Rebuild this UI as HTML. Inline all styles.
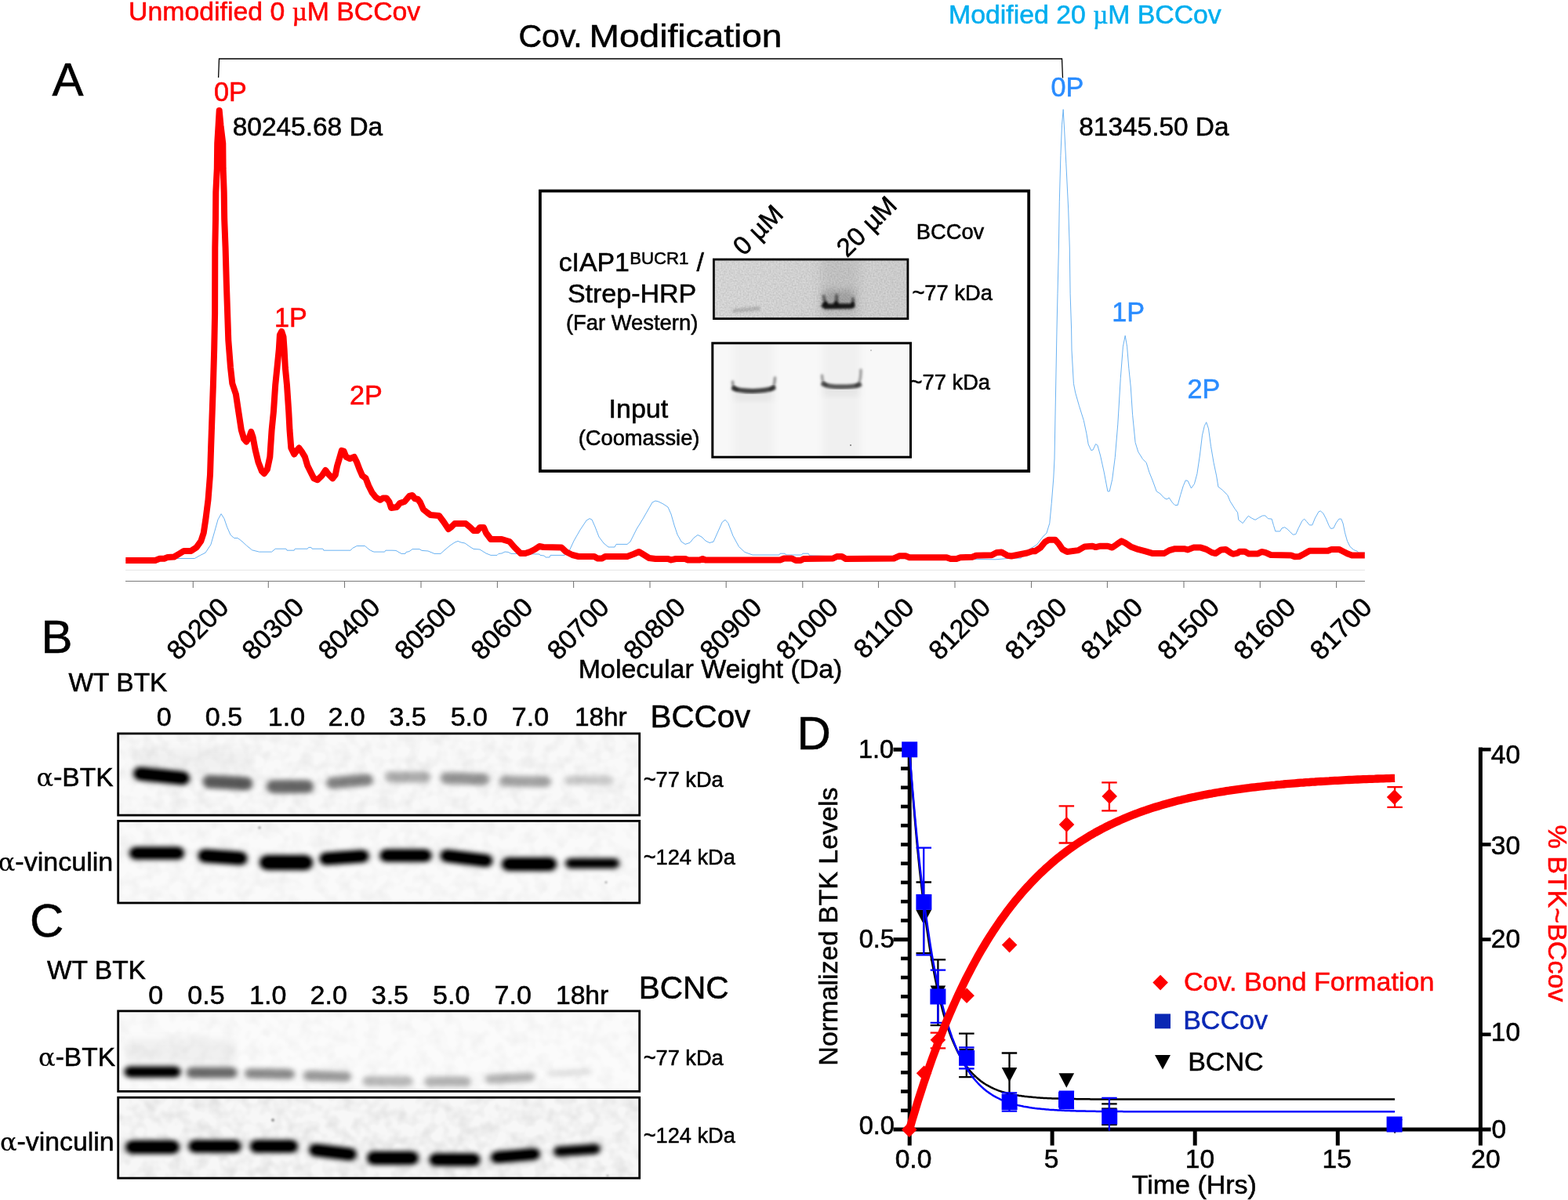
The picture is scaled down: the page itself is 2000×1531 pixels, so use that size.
<!DOCTYPE html>
<html lang="en"><head><meta charset="utf-8"><title>Figure</title>
<style>html,body{margin:0;padding:0;background:#fff;overflow:hidden}svg{display:block}text{font-family:'Liberation Sans', sans-serif;fill:currentColor;stroke:currentColor;stroke-width:0.55px}</style>
</head><body>
<svg width="2000" height="1531" viewBox="0 0 2000 1531" color="#000">
<defs>
<filter id="bl" x="-30%" y="-120%" width="160%" height="340%"><feGaussianBlur stdDeviation="3.8 3.3"/><feComponentTransfer><feFuncA type="linear" slope="1.08" intercept="0"/></feComponentTransfer></filter>
<filter id="bl2" x="-30%" y="-100%" width="160%" height="300%"><feGaussianBlur stdDeviation="1.6"/></filter>
<linearGradient id="gU" x1="0" y1="0" x2="1" y2="0"><stop offset="0" stop-color="#dcdcdc"/><stop offset="0.5" stop-color="#d8d8d8"/><stop offset="1" stop-color="#d3d3d3"/></linearGradient>
<filter id="bl4" x="-50%" y="-50%" width="200%" height="200%"><feGaussianBlur stdDeviation="5"/></filter>
<filter id="bl5" x="-30%" y="-100%" width="160%" height="300%"><feGaussianBlur stdDeviation="1.7"/></filter>
<filter id="grain" x="0" y="0" width="100%" height="100%"><feTurbulence type="fractalNoise" baseFrequency="0.5" numOctaves="2" seed="3"/><feColorMatrix type="matrix" values="0 0 0 0 0  0 0 0 0 0  0 0 0 0 0  2 0 0 0 -0.6"/></filter>
<filter id="bl6" x="-100%" y="-100%" width="300%" height="300%"><feGaussianBlur stdDeviation="0.9"/></filter>
<filter id="bl3" x="-30%" y="-30%" width="160%" height="160%"><feGaussianBlur stdDeviation="7"/></filter>
<filter id="noise" x="0" y="0" width="100%" height="100%"><feTurbulence type="fractalNoise" baseFrequency="0.06" numOctaves="2" seed="7"/><feColorMatrix type="matrix" values="0 0 0 0 0  0 0 0 0 0  0 0 0 0 0  1.2 0 0 0 -0.45"/></filter>
</defs>
<rect width="2000" height="1531" fill="#fff"/>
<g id="spectrum">
<line x1="160" y1="727.3" x2="1741" y2="727.3" stroke="#e4e4e4" stroke-width="1"/>
<line x1="160" y1="741.5" x2="1741" y2="741.5" stroke="#7a7a7a" stroke-width="1.1"/>
<line x1="246.3" y1="741.5" x2="246.3" y2="750" stroke="#7a7a7a" stroke-width="1.1"/>
<text transform="translate(293.6,777) rotate(-45)" font-size="34" text-anchor="end">80200</text>
<line x1="342.3" y1="741.5" x2="342.3" y2="750" stroke="#7a7a7a" stroke-width="1.1"/>
<text transform="translate(389.6,777) rotate(-45)" font-size="34" text-anchor="end">80300</text>
<line x1="439.5" y1="741.5" x2="439.5" y2="750" stroke="#7a7a7a" stroke-width="1.1"/>
<text transform="translate(486.8,777) rotate(-45)" font-size="34" text-anchor="end">80400</text>
<line x1="537.0" y1="741.5" x2="537.0" y2="750" stroke="#7a7a7a" stroke-width="1.1"/>
<text transform="translate(584.3,777) rotate(-45)" font-size="34" text-anchor="end">80500</text>
<line x1="634.4" y1="741.5" x2="634.4" y2="750" stroke="#7a7a7a" stroke-width="1.1"/>
<text transform="translate(681.7,777) rotate(-45)" font-size="34" text-anchor="end">80600</text>
<line x1="731.6" y1="741.5" x2="731.6" y2="750" stroke="#7a7a7a" stroke-width="1.1"/>
<text transform="translate(778.9,777) rotate(-45)" font-size="34" text-anchor="end">80700</text>
<line x1="829.0" y1="741.5" x2="829.0" y2="750" stroke="#7a7a7a" stroke-width="1.1"/>
<text transform="translate(876.3,777) rotate(-45)" font-size="34" text-anchor="end">80800</text>
<line x1="926.2" y1="741.5" x2="926.2" y2="750" stroke="#7a7a7a" stroke-width="1.1"/>
<text transform="translate(973.5,777) rotate(-45)" font-size="34" text-anchor="end">80900</text>
<line x1="1023.8" y1="741.5" x2="1023.8" y2="750" stroke="#7a7a7a" stroke-width="1.1"/>
<text transform="translate(1071.0,777) rotate(-45)" font-size="34" text-anchor="end">81000</text>
<line x1="1120.5" y1="741.5" x2="1120.5" y2="750" stroke="#7a7a7a" stroke-width="1.1"/>
<text transform="translate(1167.8,777) rotate(-45)" font-size="34" text-anchor="end">81100</text>
<line x1="1218.0" y1="741.5" x2="1218.0" y2="750" stroke="#7a7a7a" stroke-width="1.1"/>
<text transform="translate(1265.3,777) rotate(-45)" font-size="34" text-anchor="end">81200</text>
<line x1="1315.5" y1="741.5" x2="1315.5" y2="750" stroke="#7a7a7a" stroke-width="1.1"/>
<text transform="translate(1362.8,777) rotate(-45)" font-size="34" text-anchor="end">81300</text>
<line x1="1412.4" y1="741.5" x2="1412.4" y2="750" stroke="#7a7a7a" stroke-width="1.1"/>
<text transform="translate(1459.7,777) rotate(-45)" font-size="34" text-anchor="end">81400</text>
<line x1="1510.0" y1="741.5" x2="1510.0" y2="750" stroke="#7a7a7a" stroke-width="1.1"/>
<text transform="translate(1557.3,777) rotate(-45)" font-size="34" text-anchor="end">81500</text>
<line x1="1607.3" y1="741.5" x2="1607.3" y2="750" stroke="#7a7a7a" stroke-width="1.1"/>
<text transform="translate(1654.6,777) rotate(-45)" font-size="34" text-anchor="end">81600</text>
<line x1="1704.6" y1="741.5" x2="1704.6" y2="750" stroke="#7a7a7a" stroke-width="1.1"/>
<text transform="translate(1751.9,777) rotate(-45)" font-size="34" text-anchor="end">81700</text>
<path d="M160.0,714.5 L225.4,712.5 L248.3,712.5 L255.2,708.6 L262.0,705.2 L268.9,694.9 L273.5,678.9 L278.0,662.9 L282.1,655.6 L286.0,661.8 L289.5,672.1 L294.0,682.4 L298.6,686.5 L303.2,686.5 L307.8,689.9 L314.6,696.1 L321.5,701.8 L330.6,704.1 L346.6,704.1 L351.2,700.2 L364.9,700.2 L366.0,702.2 L375.2,702.2 L376.3,700.2 L392.3,700.2 L393.5,698.4 L396.9,698.4 L398.1,700.2 L411.8,700.2 L412.9,702.2 L447.2,702.2 L449.5,699.5 L455.2,696.5 L465.5,696.5 L468.9,699.5 L472.4,702.2 L476.9,704.1 L490.6,704.1 L491.8,702.2 L500.0,702.2 L505.0,702.4 L512.0,706.4 L517.0,706.4 L518.0,704.4 L522.0,703.6 L526.0,700.6 L535.0,700.6 L538.0,702.4 L546.0,703.0 L554.0,706.4 L562.0,706.4 L568.0,701.0 L574.0,696.0 L580.0,692.0 L584.0,690.4 L588.0,692.0 L593.0,693.0 L600.0,698.0 L604.0,700.4 L612.0,701.0 L620.0,706.0 L626.0,708.4 L634.0,708.4 L636.0,706.4 L640.0,706.0 L644.0,704.0 L648.0,704.4 L652.0,706.4 L660.0,706.4 L688.0,707.0 L689.0,708.4 L694.0,709.0 L696.0,711.0 L701.0,711.0 L702.0,708.4 L720.0,708.4 L726.0,703.0 L732.0,690.0 L740.0,676.0 L748.0,664.0 L752.0,661.6 L755.0,663.0 L759.0,672.0 L764.0,685.0 L770.0,693.0 L776.0,698.0 L784.0,698.0 L786.0,694.4 L800.0,694.4 L804.0,691.0 L812.0,675.0 L820.0,662.0 L828.0,648.0 L832.0,641.0 L836.0,639.0 L840.0,640.0 L846.0,643.0 L852.0,647.0 L856.0,656.0 L860.0,670.0 L864.0,682.0 L869.0,691.0 L874.0,694.4 L880.0,692.4 L885.0,686.2 L890.0,682.5 L895.0,685.0 L900.0,690.0 L905.0,692.5 L910.0,691.2 L915.0,680.0 L921.2,666.2 L925.0,663.2 L928.8,667.5 L935.0,683.8 L942.5,697.5 L950.0,704.5 L960.0,708.0 L993.8,708.0 L995.0,706.2 L1001.2,706.2 L1002.5,708.0 L1022.5,708.0 L1023.8,706.2 L1031.2,706.2 L1032.5,708.8 L1140.0,712.5 L1270.0,713.8 L1285.0,712.5 L1302.5,712.0 L1305.0,705.0 L1310.0,702.5 L1322.5,695.0 L1330.0,685.0 L1335.0,680.0 L1338.8,667.5 L1341.2,642.5 L1343.8,610.0 L1345.0,585.0 L1348.0,420.0 L1349.0,374.8 L1350.4,316.0 L1351.3,257.2 L1352.9,198.4 L1354.5,159.2 L1356.2,139.6 L1357.8,169.0 L1359.8,208.2 L1362.7,267.0 L1364.3,316.0 L1365.1,374.8 L1366.6,420.0 L1367.0,447.0 L1369.4,489.3 L1371.7,501.1 L1376.4,517.6 L1382.3,536.4 L1385.8,552.8 L1388.2,566.9 L1391.7,574.5 L1394.1,574.0 L1397.6,566.5 L1399.9,568.1 L1403.5,581.0 L1408.2,602.2 L1412.9,626.9 L1415.2,626.9 L1418.7,611.6 L1422.3,583.4 L1425.8,541.1 L1429.3,482.3 L1432.4,442.3 L1435.2,428.2 L1437.6,442.3 L1439.9,470.5 L1442.3,494.0 L1444.6,529.3 L1448.1,564.6 L1451.7,576.3 L1457.5,585.7 L1462.2,590.4 L1465.8,602.2 L1470.5,614.0 L1475.2,626.9 L1479.9,629.9 L1484.6,635.1 L1488.1,637.0 L1491.2,635.1 L1495.2,641.0 L1498.7,644.5 L1502.2,644.5 L1505.7,631.6 L1509.3,619.8 L1512.3,612.8 L1515.1,613.5 L1519.4,622.9 L1523.4,617.5 L1526.9,604.5 L1530.4,581.0 L1533.5,555.2 L1536.3,543.4 L1538.7,538.7 L1541.5,546.9 L1544.5,569.3 L1548.1,590.4 L1551.6,606.9 L1553.9,621.0 L1559.8,625.7 L1565.7,631.6 L1569.2,639.8 L1575.1,649.2 L1578.6,653.9 L1579.8,663.3 L1585.2,667.6 L1589.2,662.1 L1592.3,658.2 L1596.3,661.0 L1601.0,663.3 L1605.7,660.5 L1610.4,657.9 L1613.9,657.9 L1617.4,661.7 L1622.1,662.1 L1624.5,670.4 L1626.8,677.9 L1632.7,677.9 L1635.0,673.9 L1638.6,672.7 L1642.1,675.1 L1645.6,678.6 L1649.2,682.1 L1652.7,681.7 L1656.2,673.9 L1660.9,664.5 L1663.7,662.1 L1666.8,665.7 L1670.3,669.9 L1673.8,669.9 L1677.4,661.0 L1682.1,652.7 L1684.4,652.0 L1687.9,655.1 L1691.5,662.1 L1695.0,670.4 L1697.4,674.4 L1700.9,673.9 L1704.4,666.9 L1707.9,662.1 L1710.8,662.1 L1713.1,668.0 L1715.5,679.8 L1718.5,690.4 L1722.0,697.4 L1726.7,701.6 L1731.4,703.3 L1732.6,705.2 L1740.8,705.2" fill="none" stroke="#6ab2f2" stroke-width="1" stroke-linejoin="round"/>
<path d="M160.3,715.0 L198.0,715.0 L203.7,712.8 L209.4,712.8 L214.0,710.9 L222.0,710.5 L228.9,706.4 L234.6,702.9 L243.7,702.9 L250.6,698.4 L256.3,690.4 L259.7,680.1 L262.3,662.9 L265.5,637.8 L268.0,605.8 L269.1,571.5 L270.3,537.2 L271.9,491.4 L273.2,445.7 L274.1,400.0 L274.3,316.0 L275.0,280.0 L275.3,245.0 L276.8,215.0 L277.2,183.0 L278.6,160.0 L279.7,141.0 L281.5,160.0 L284.3,183.0 L284.6,215.0 L285.7,245.0 L286.2,280.0 L287.6,316.0 L288.8,360.0 L291.3,434.3 L294.0,468.6 L296.3,489.2 L300.9,502.9 L304.3,525.7 L307.8,548.6 L311.2,560.0 L314.2,563.5 L318.0,557.8 L320.3,550.9 L322.6,557.8 L325.6,573.8 L329.5,589.8 L334.0,601.2 L337.0,604.2 L340.9,598.9 L344.3,582.9 L346.6,548.6 L348.9,525.7 L351.2,491.4 L353.5,468.6 L355.8,445.7 L356.9,427.4 L359.2,422.9 L361.5,429.7 L362.6,445.7 L363.8,468.6 L366.0,491.4 L368.3,525.7 L369.5,548.6 L371.3,571.5 L375.2,579.5 L378.6,574.9 L381.4,571.5 L385.5,577.2 L388.9,582.9 L392.3,594.3 L396.9,603.5 L400.3,610.3 L404.9,612.2 L410.6,606.9 L415.2,600.0 L418.6,604.6 L424.3,610.3 L427.8,605.8 L430.1,594.3 L433.5,582.9 L435.8,574.9 L438.5,575.6 L441.5,582.9 L446.1,585.2 L451.8,582.9 L455.2,589.8 L458.6,598.9 L462.1,606.9 L466.6,610.3 L470.1,619.5 L474.6,628.6 L479.2,634.3 L484.9,637.8 L488.4,635.5 L492.9,635.5 L496.4,640.1 L499.0,648.0 L506.0,647.0 L510.0,642.0 L516.0,640.0 L522.0,633.0 L526.0,632.0 L529.0,636.0 L533.0,637.0 L536.0,641.0 L540.0,650.0 L545.0,654.0 L549.0,657.0 L560.0,658.0 L566.0,666.0 L572.0,675.0 L576.0,672.0 L580.0,668.0 L594.0,668.0 L600.0,673.0 L604.0,677.0 L609.0,677.0 L612.0,673.0 L617.0,673.0 L620.0,680.0 L626.0,688.0 L640.0,688.0 L650.0,691.0 L656.0,698.0 L664.0,706.0 L670.0,706.0 L676.0,704.0 L682.0,701.0 L688.0,697.0 L693.0,698.0 L716.0,698.4 L722.0,704.0 L730.0,708.0 L738.0,710.0 L758.0,710.0 L762.0,712.4 L768.0,712.4 L772.0,710.0 L800.0,710.0 L808.0,707.0 L815.0,704.0 L820.0,707.0 L828.0,712.0 L836.0,713.0 L852.0,713.0 L856.0,714.4 L862.0,713.0 L874.0,713.0 L877.5,714.5 L892.5,714.5 L896.2,713.0 L900.0,714.5 L995.0,714.5 L1000.0,712.5 L1010.0,712.5 L1015.0,715.0 L1021.2,715.0 L1025.0,713.0 L1062.5,712.5 L1067.5,710.0 L1073.8,710.0 L1078.8,713.0 L1140.0,712.5 L1147.5,709.2 L1155.0,709.2 L1160.0,711.2 L1207.5,711.2 L1212.5,713.0 L1220.0,713.0 L1225.0,711.2 L1240.0,710.8 L1245.0,708.8 L1265.0,708.2 L1271.2,705.0 L1277.5,704.5 L1285.0,708.8 L1290.0,709.5 L1300.0,707.5 L1310.0,705.5 L1317.5,703.0 L1320.0,703.3 L1327.1,698.6 L1332.9,691.5 L1337.6,688.7 L1345.9,688.7 L1350.6,693.9 L1355.3,700.9 L1361.1,704.0 L1375.3,702.1 L1383.5,697.4 L1392.9,696.7 L1397.6,698.1 L1403.5,696.7 L1412.9,696.7 L1418.7,698.6 L1424.6,694.4 L1430.5,690.4 L1435.2,692.7 L1442.3,697.4 L1451.7,700.9 L1461.1,703.3 L1470.5,706.1 L1484.6,706.1 L1491.6,702.1 L1498.7,700.2 L1510.4,700.2 L1515.1,701.4 L1522.2,698.6 L1531.6,698.6 L1538.7,700.9 L1545.7,704.9 L1550.4,706.1 L1557.5,701.4 L1563.3,700.9 L1569.2,704.9 L1572.7,706.8 L1578.6,705.6 L1581.0,703.8 L1588.0,703.8 L1592.7,706.4 L1604.5,706.4 L1609.2,704.0 L1613.9,704.9 L1620.9,708.0 L1646.8,708.5 L1651.5,710.3 L1657.4,709.9 L1663.3,706.8 L1670.3,702.8 L1693.8,702.8 L1698.5,700.9 L1707.9,700.9 L1712.6,703.3 L1719.7,706.8 L1724.4,708.5 L1740.8,708.5" fill="none" stroke="#fe0000" stroke-width="8" stroke-linejoin="round" stroke-linecap="butt"/>
<path d="M278.6,99 L279.5,75 L1354.5,75 L1355.5,99.5" fill="none" stroke="#000" stroke-width="1.3"/>
</g>
<rect x="688.9" y="243.6" width="623.3" height="357.4" fill="none" stroke="#000" stroke-width="3.8"/>
<clipPath id="ci1"><rect x="909" y="329.6" width="250.29999999999995" height="78.39999999999998"/></clipPath>
<g clip-path="url(#ci1)">
<rect x="909" y="329.6" width="250.29999999999995" height="78.39999999999998" fill="url(#gU)"/>
<rect x="909" y="329.6" width="250.29999999999995" height="78.39999999999998" filter="url(#grain)" opacity="0.10"/>
<rect x="1046" y="325" width="50" height="90" fill="#000" fill-opacity="0.07" filter="url(#bl3)"/>
<rect x="1050" y="370" width="40" height="24" fill="#000" fill-opacity="0.16" filter="url(#bl4)"/>
<rect x="934" y="392.5" width="36" height="5" rx="2.5" fill="#000" fill-opacity="0.17" filter="url(#bl2)" transform="rotate(-5 952 395)"/>
<path d="M1050.5,378 L1053,388 M1067,377 L1067.5,388 M1088,381 L1088,388" fill="none" stroke="#000" stroke-opacity="0.5" stroke-width="4" stroke-linecap="round" filter="url(#bl5)"/>
<path d="M1048,390.5 L1050,387.5 L1053,385 L1056,388 L1063,388.5 L1066,384.5 L1069,388 L1085,388 L1088,385.5 L1090,391 L1086,393 L1052,393.5 Z" fill="#000" fill-opacity="0.85" stroke="#000" stroke-opacity="0.85" stroke-width="1.4" stroke-linejoin="round" filter="url(#bl5)"/>
</g>
<rect x="910.4" y="331.0" width="247.49999999999994" height="75.59999999999998" fill="none" stroke="#000" stroke-width="2.8"/>
<clipPath id="ci2"><rect x="907.3" y="436.3" width="255.70000000000005" height="148.40000000000003"/></clipPath>
<g clip-path="url(#ci2)">
<rect x="907.3" y="436.3" width="255.70000000000005" height="148.40000000000003" fill="#f8f8f8"/>
<rect x="935" y="430" width="52" height="160" fill="#000" fill-opacity="0.028" filter="url(#bl4)"/>
<rect x="1049" y="430" width="48" height="160" fill="#000" fill-opacity="0.03" filter="url(#bl4)"/>
<rect x="936" y="500" width="50" height="10" fill="#000" fill-opacity="0.06" filter="url(#bl4)"/>
<rect x="1050" y="494" width="46" height="10" fill="#000" fill-opacity="0.06" filter="url(#bl4)"/>
<path d="M934.5,487 Q934.5,495 940,497 M983,496.5 Q988,494.5 988.5,482" fill="none" stroke="#000" stroke-opacity="0.4" stroke-width="3.6" stroke-linecap="round" filter="url(#bl5)"/>
<path d="M936,495.5 Q942,498.5 960,499 Q978,498.5 986.5,495" fill="none" stroke="#000" stroke-opacity="0.72" stroke-width="6.2" stroke-linecap="round" filter="url(#bl5)"/>
<path d="M1048.5,479 Q1048.5,488 1054,491 M1092,492 Q1098,490 1098,472" fill="none" stroke="#000" stroke-opacity="0.36" stroke-width="3.6" stroke-linecap="round" filter="url(#bl5)"/>
<path d="M1050,490 Q1056,493.5 1073,493.5 Q1090,493.5 1096.5,491" fill="none" stroke="#000" stroke-opacity="0.64" stroke-width="5.8" stroke-linecap="round" filter="url(#bl5)"/>
<circle cx="1085" cy="568" r="1" fill="#777"/>
<circle cx="1111" cy="447" r="1" fill="#bbb"/>
</g>
<rect x="908.8" y="437.8" width="252.70000000000005" height="145.40000000000003" fill="none" stroke="#000" stroke-width="3"/>
<text x="712.70" y="346.00" font-size="33.8" color="#000" text-anchor="start">cIAP1</text>
<text x="803.20" y="337.30" font-size="22.2" color="#000" text-anchor="start">BUCR1</text>
<text x="888.50" y="346.00" font-size="33.8" color="#000" text-anchor="start">/</text>
<text x="723.90" y="386.30" font-size="34" color="#000" text-anchor="start">Strep-HRP</text>
<text x="721.90" y="421.30" font-size="27.4" color="#000" text-anchor="start">(Far Western)</text>
<text x="776.60" y="532.60" font-size="34" color="#000" text-anchor="start">Input</text>
<text x="737.70" y="567.60" font-size="27.3" color="#000" text-anchor="start">(Coomassie)</text>
<text x="1168.80" y="305.30" font-size="27.3" color="#000" text-anchor="start">BCCov</text>
<text x="1163.40" y="382.80" font-size="27.3" color="#000" text-anchor="start">~77 kDa</text>
<text x="1160.60" y="496.50" font-size="27.3" color="#000" text-anchor="start">~77 kDa</text>
<text transform="translate(948.5,327.5) rotate(-45)" font-size="33">0 µM</text>
<text transform="translate(1080.5,329.5) rotate(-45)" font-size="33">20 µM</text>
<clipPath id="cb1"><rect x="149.3" y="934.5" width="667.8" height="107.0"/></clipPath>
<g clip-path="url(#cb1)">
<rect x="149.3" y="934.5" width="667.8" height="107.0" fill="#f9f9f9"/>
<rect x="149.3" y="934.5" width="667.8" height="107.0" filter="url(#noise)" opacity="0.09"/>
<rect x="170" y="955" width="150" height="30" fill="#000" fill-opacity="0.03" filter="url(#bl4)"/>
<rect x="170.0" y="981.5" width="72.0" height="17.0" rx="8.5" fill="#000" fill-opacity="1.0" filter="url(#bl)" transform="rotate(6 206.0 990.0)"/>
<rect x="258.5" y="990.0" width="64.0" height="17.0" rx="8.5" fill="#000" fill-opacity="0.6" filter="url(#bl)" transform="rotate(3 290.5 998.5)"/>
<rect x="340.0" y="995.0" width="60.0" height="17.0" rx="8.5" fill="#000" fill-opacity="0.55" filter="url(#bl)" transform="rotate(0 370.0 1003.5)"/>
<rect x="416.0" y="989.5" width="60.0" height="15.0" rx="7.5" fill="#000" fill-opacity="0.45" filter="url(#bl)" transform="rotate(-5 446.0 997.0)"/>
<rect x="491.0" y="984.5" width="58.0" height="14.0" rx="7.0" fill="#000" fill-opacity="0.29" filter="url(#bl)" transform="rotate(0 520.0 991.5)"/>
<rect x="561.5" y="986.0" width="63.0" height="15.0" rx="7.5" fill="#000" fill-opacity="0.38" filter="url(#bl)" transform="rotate(2 593.0 993.5)"/>
<rect x="637.0" y="990.0" width="66.0" height="14.0" rx="7.0" fill="#000" fill-opacity="0.32" filter="url(#bl)" transform="rotate(1 670.0 997.0)"/>
<rect x="719.5" y="990.0" width="63.0" height="11.0" rx="5.5" fill="#000" fill-opacity="0.19" filter="url(#bl)" transform="rotate(0 751.0 995.5)"/>
</g>
<rect x="150.70000000000002" y="935.9" width="665.0" height="104.2" fill="none" stroke="#000" stroke-width="2.8"/>
<clipPath id="cb2"><rect x="149.3" y="1046" width="667.8" height="107.40000000000009"/></clipPath>
<g clip-path="url(#cb2)">
<rect x="149.3" y="1046" width="667.8" height="107.40000000000009" fill="#fafafa"/>
<rect x="149.3" y="1046" width="667.8" height="107.40000000000009" filter="url(#noise)" opacity="0.07"/>
<circle cx="331" cy="1056" r="1.8" fill="#000" fill-opacity="0.35" filter="url(#bl6)"/>
<circle cx="773" cy="1125.7" r="1.6" fill="#000" fill-opacity="0.3" filter="url(#bl6)"/>
<rect x="165.0" y="1080.5" width="70.0" height="16.0" rx="8.0" fill="#000" fill-opacity="1.0" filter="url(#bl)" transform="rotate(0 200.0 1088.5)"/>
<rect x="252.5" y="1085.0" width="63.0" height="17.0" rx="8.5" fill="#000" fill-opacity="1.0" filter="url(#bl)" transform="rotate(4 284.0 1093.5)"/>
<rect x="331.0" y="1091.0" width="68.0" height="19.0" rx="9.5" fill="#000" fill-opacity="1.0" filter="url(#bl)" transform="rotate(0 365.0 1100.5)"/>
<rect x="407.5" y="1086.0" width="63.0" height="16.0" rx="8.0" fill="#000" fill-opacity="1.0" filter="url(#bl)" transform="rotate(-4 439.0 1094.0)"/>
<rect x="484.5" y="1083.5" width="66.0" height="16.0" rx="8.0" fill="#000" fill-opacity="1.0" filter="url(#bl)" transform="rotate(0 517.5 1091.5)"/>
<rect x="561.5" y="1087.0" width="67.0" height="16.0" rx="8.0" fill="#000" fill-opacity="1.0" filter="url(#bl)" transform="rotate(7 595.0 1095.0)"/>
<rect x="640.0" y="1094.0" width="70.0" height="17.0" rx="8.5" fill="#000" fill-opacity="1.0" filter="url(#bl)" transform="rotate(0 675.0 1102.5)"/>
<rect x="721.0" y="1095.0" width="69.0" height="13.0" rx="6.5" fill="#000" fill-opacity="0.95" filter="url(#bl)" transform="rotate(0 755.5 1101.5)"/>
</g>
<rect x="150.70000000000002" y="1047.4" width="665.0" height="104.6000000000001" fill="none" stroke="#000" stroke-width="2.8"/>
<clipPath id="cc1"><rect x="149.3" y="1288.5" width="667.8" height="105.29999999999995"/></clipPath>
<g clip-path="url(#cc1)">
<rect x="149.3" y="1288.5" width="667.8" height="105.29999999999995" fill="#fbfbfb"/>
<rect x="149.3" y="1288.5" width="667.8" height="105.29999999999995" filter="url(#noise)" opacity="0.06"/>
<rect x="160" y="1325" width="140" height="34" fill="#000" fill-opacity="0.045" filter="url(#bl4)"/>
<rect x="158.5" y="1360.5" width="72.0" height="14.0" rx="7.0" fill="#000" fill-opacity="0.97" filter="url(#bl)" transform="rotate(0 194.5 1367.5)"/>
<rect x="237.5" y="1361.5" width="65.0" height="14.0" rx="7.0" fill="#000" fill-opacity="0.54" filter="url(#bl)" transform="rotate(0 270.0 1368.5)"/>
<rect x="312.0" y="1363.5" width="64.0" height="13.0" rx="6.5" fill="#000" fill-opacity="0.42" filter="url(#bl)" transform="rotate(1 344.0 1370.0)"/>
<rect x="387.0" y="1366.5" width="61.0" height="13.0" rx="6.5" fill="#000" fill-opacity="0.36" filter="url(#bl)" transform="rotate(2 417.5 1373.0)"/>
<rect x="462.5" y="1373.0" width="64.0" height="13.0" rx="6.5" fill="#000" fill-opacity="0.25" filter="url(#bl)" transform="rotate(0 494.5 1379.5)"/>
<rect x="541.0" y="1373.5" width="60.0" height="13.0" rx="6.5" fill="#000" fill-opacity="0.27" filter="url(#bl)" transform="rotate(0 571.0 1380.0)"/>
<rect x="619.0" y="1369.5" width="63.0" height="12.0" rx="6.0" fill="#000" fill-opacity="0.27" filter="url(#bl)" transform="rotate(-3 650.5 1375.5)"/>
<rect x="697.5" y="1364.0" width="58.0" height="9.0" rx="4.5" fill="#000" fill-opacity="0.09" filter="url(#bl)" transform="rotate(-3 726.5 1368.5)"/>
</g>
<rect x="150.70000000000002" y="1289.9" width="665.0" height="102.49999999999996" fill="none" stroke="#000" stroke-width="2.8"/>
<clipPath id="cc2"><rect x="149.3" y="1398.8" width="667.8" height="105.70000000000005"/></clipPath>
<g clip-path="url(#cc2)">
<rect x="149.3" y="1398.8" width="667.8" height="105.70000000000005" fill="#f7f7f7"/>
<rect x="149.3" y="1398.8" width="667.8" height="105.70000000000005" filter="url(#noise)" opacity="0.14"/>
<circle cx="348" cy="1429" r="2" fill="#000" fill-opacity="0.4" filter="url(#bl6)"/>
<circle cx="775" cy="1500" r="1.5" fill="#000" fill-opacity="0.3" filter="url(#bl6)"/>
<rect x="160.0" y="1455.0" width="69.0" height="17.0" rx="8.5" fill="#000" fill-opacity="1.0" filter="url(#bl)" transform="rotate(0 194.5 1463.5)"/>
<rect x="240.5" y="1454.5" width="67.0" height="16.0" rx="8.0" fill="#000" fill-opacity="1.0" filter="url(#bl)" transform="rotate(0 274.0 1462.5)"/>
<rect x="319.0" y="1454.5" width="61.0" height="16.0" rx="8.0" fill="#000" fill-opacity="1.0" filter="url(#bl)" transform="rotate(0 349.5 1462.5)"/>
<rect x="394.0" y="1462.0" width="61.0" height="16.0" rx="8.0" fill="#000" fill-opacity="1.0" filter="url(#bl)" transform="rotate(7 424.5 1470.0)"/>
<rect x="468.0" y="1469.0" width="66.0" height="17.0" rx="8.5" fill="#000" fill-opacity="1.0" filter="url(#bl)" transform="rotate(0 501.0 1477.5)"/>
<rect x="547.5" y="1471.5" width="65.0" height="16.0" rx="8.0" fill="#000" fill-opacity="1.0" filter="url(#bl)" transform="rotate(0 580.0 1479.5)"/>
<rect x="626.0" y="1467.0" width="63.0" height="15.0" rx="7.5" fill="#000" fill-opacity="1.0" filter="url(#bl)" transform="rotate(-5 657.5 1474.5)"/>
<rect x="706.0" y="1461.0" width="60.0" height="13.0" rx="6.5" fill="#000" fill-opacity="0.95" filter="url(#bl)" transform="rotate(-4 736.0 1467.5)"/>
</g>
<rect x="150.70000000000002" y="1400.2" width="665.0" height="102.90000000000005" fill="none" stroke="#000" stroke-width="2.8"/>
<g id="panelD">
<path d="M1160.2,954 V1461.5 M1139.5,1441 H1901.6 M1888.4,953.6 V1461.5" stroke="#000" stroke-width="5" fill="none"/>
<line x1="1149" y1="1416.8" x2="1160" y2="1416.8" stroke="#000" stroke-width="4.6"/>
<line x1="1149" y1="1392.5" x2="1160" y2="1392.5" stroke="#000" stroke-width="4.6"/>
<line x1="1149" y1="1368.3" x2="1160" y2="1368.3" stroke="#000" stroke-width="4.6"/>
<line x1="1149" y1="1344.1" x2="1160" y2="1344.1" stroke="#000" stroke-width="4.6"/>
<line x1="1149" y1="1319.8" x2="1160" y2="1319.8" stroke="#000" stroke-width="4.6"/>
<line x1="1149" y1="1295.6" x2="1160" y2="1295.6" stroke="#000" stroke-width="4.6"/>
<line x1="1149" y1="1271.4" x2="1160" y2="1271.4" stroke="#000" stroke-width="4.6"/>
<line x1="1149" y1="1247.1" x2="1160" y2="1247.1" stroke="#000" stroke-width="4.6"/>
<line x1="1149" y1="1222.9" x2="1160" y2="1222.9" stroke="#000" stroke-width="4.6"/>
<line x1="1139.5" y1="1198.7" x2="1160" y2="1198.7" stroke="#000" stroke-width="5"/>
<line x1="1149" y1="1174.4" x2="1160" y2="1174.4" stroke="#000" stroke-width="4.6"/>
<line x1="1149" y1="1150.2" x2="1160" y2="1150.2" stroke="#000" stroke-width="4.6"/>
<line x1="1149" y1="1125.9" x2="1160" y2="1125.9" stroke="#000" stroke-width="4.6"/>
<line x1="1149" y1="1101.7" x2="1160" y2="1101.7" stroke="#000" stroke-width="4.6"/>
<line x1="1149" y1="1077.5" x2="1160" y2="1077.5" stroke="#000" stroke-width="4.6"/>
<line x1="1149" y1="1053.2" x2="1160" y2="1053.2" stroke="#000" stroke-width="4.6"/>
<line x1="1149" y1="1029.0" x2="1160" y2="1029.0" stroke="#000" stroke-width="4.6"/>
<line x1="1149" y1="1004.8" x2="1160" y2="1004.8" stroke="#000" stroke-width="4.6"/>
<line x1="1149" y1="980.5" x2="1160" y2="980.5" stroke="#000" stroke-width="4.6"/>
<line x1="1139.5" y1="956.3" x2="1160" y2="956.3" stroke="#000" stroke-width="5"/>
<line x1="1888" y1="1319.8" x2="1901.6" y2="1319.8" stroke="#000" stroke-width="4.6"/>
<line x1="1888" y1="1198.6" x2="1901.6" y2="1198.6" stroke="#000" stroke-width="4.6"/>
<line x1="1888" y1="1077.4" x2="1901.6" y2="1077.4" stroke="#000" stroke-width="4.6"/>
<line x1="1888" y1="956.2" x2="1901.6" y2="956.2" stroke="#000" stroke-width="4.6"/>
<line x1="1342.1" y1="1441" x2="1342.1" y2="1461.5" stroke="#000" stroke-width="5"/>
<line x1="1524.2" y1="1441" x2="1524.2" y2="1461.5" stroke="#000" stroke-width="5"/>
<line x1="1706.3" y1="1441" x2="1706.3" y2="1461.5" stroke="#000" stroke-width="5"/>
<text x="1140.20" y="967.20" font-size="32.6" color="#000" text-anchor="end">1.0</text>
<text x="1141.00" y="1208.50" font-size="32.6" color="#000" text-anchor="end">0.5</text>
<text x="1141.00" y="1446.50" font-size="32.6" color="#000" text-anchor="end">0.0</text>
<text x="1165.00" y="1490.00" font-size="33.6" color="#000" text-anchor="middle">0.0</text>
<text x="1341.00" y="1490.00" font-size="33.6" color="#000" text-anchor="middle">5</text>
<text x="1530.50" y="1489.80" font-size="33.6" color="#000" text-anchor="middle">10</text>
<text x="1705.30" y="1489.80" font-size="33.6" color="#000" text-anchor="middle">15</text>
<text x="1895.00" y="1489.80" font-size="33.6" color="#000" text-anchor="middle">20</text>
<text x="1443.70" y="1523.00" font-size="34" color="#000" text-anchor="start">Time (Hrs)</text>
<text x="1901.80" y="973.50" font-size="33.6" color="#000" text-anchor="start">40</text>
<text x="1901.80" y="1089.60" font-size="33.6" color="#000" text-anchor="start">30</text>
<text x="1901.80" y="1209.00" font-size="33.6" color="#000" text-anchor="start">20</text>
<text x="1901.80" y="1327.50" font-size="33.6" color="#000" text-anchor="start">10</text>
<text x="1902.50" y="1451.80" font-size="33.6" color="#000" text-anchor="start">0</text>
<text transform="translate(1067.5,1182) rotate(-90)" font-size="34" text-anchor="middle">Normalized BTK Levels</text>
<text transform="translate(1975,1052.5) rotate(90)" font-size="34" color="#fe0000">% BTK~BCcov</text>
<path d="M1160.0,956.3 L1161.8,981.9 L1163.6,1006.0 L1165.5,1028.7 L1167.3,1050.1 L1169.1,1070.3 L1170.9,1089.4 L1172.7,1107.3 L1174.6,1124.2 L1176.4,1140.2 L1178.2,1155.2 L1180.0,1169.4 L1181.9,1182.7 L1183.7,1195.3 L1185.5,1207.2 L1187.3,1218.4 L1189.1,1229.0 L1191.0,1238.9 L1192.8,1248.3 L1194.6,1257.1 L1196.4,1265.5 L1198.2,1273.3 L1200.1,1280.7 L1201.9,1287.7 L1203.7,1294.3 L1205.5,1300.5 L1207.3,1306.4 L1209.2,1311.9 L1211.0,1317.1 L1212.8,1322.0 L1214.6,1326.6 L1216.5,1330.9 L1218.3,1335.1 L1220.1,1338.9 L1221.9,1342.6 L1223.7,1346.0 L1225.6,1349.3 L1227.4,1352.3 L1229.2,1355.2 L1231.0,1357.9 L1232.8,1360.5 L1234.7,1362.9 L1236.5,1365.2 L1238.3,1367.3 L1240.1,1369.3 L1241.9,1371.2 L1243.8,1373.0 L1245.6,1374.7 L1247.4,1376.3 L1249.2,1377.8 L1251.0,1379.3 L1252.9,1380.6 L1254.7,1381.9 L1256.5,1383.0 L1258.3,1384.2 L1260.2,1385.2 L1262.0,1386.2 L1263.8,1387.2 L1265.6,1388.0 L1267.4,1388.9 L1269.3,1389.7 L1271.1,1390.4 L1272.9,1391.1 L1274.7,1391.8 L1276.5,1392.4 L1278.4,1393.0 L1280.2,1393.5 L1282.0,1394.0 L1283.8,1394.5 L1285.6,1395.0 L1287.5,1395.4 L1289.3,1395.8 L1291.1,1396.2 L1292.9,1396.6 L1294.8,1396.9 L1296.6,1397.3 L1298.4,1397.6 L1300.2,1397.9 L1302.0,1398.1 L1303.9,1398.4 L1305.7,1398.6 L1307.5,1398.9 L1309.3,1399.1 L1311.1,1399.3 L1313.0,1399.5 L1314.8,1399.6 L1316.6,1399.8 L1318.4,1400.0 L1320.2,1400.1 L1322.1,1400.3 L1323.9,1400.4 L1325.7,1400.5 L1327.5,1400.7 L1329.4,1400.8 L1331.2,1400.9 L1333.0,1401.0 L1334.8,1401.1 L1336.6,1401.2 L1338.5,1401.2 L1340.3,1401.3 L1342.1,1401.4 L1343.9,1401.5 L1345.7,1401.5 L1347.6,1401.6 L1349.4,1401.6 L1351.2,1401.7 L1353.0,1401.8 L1354.8,1401.8 L1356.7,1401.8 L1358.5,1401.9 L1360.3,1401.9 L1362.1,1402.0 L1364.0,1402.0 L1365.8,1402.0 L1367.6,1402.1 L1369.4,1402.1 L1371.2,1402.1 L1373.1,1402.2 L1374.9,1402.2 L1376.7,1402.2 L1378.5,1402.2 L1380.3,1402.3 L1382.2,1402.3 L1384.0,1402.3 L1385.8,1402.3 L1387.6,1402.3 L1389.4,1402.3 L1391.3,1402.4 L1393.1,1402.4 L1394.9,1402.4 L1396.7,1402.4 L1398.6,1402.4 L1400.4,1402.4 L1402.2,1402.4 L1404.0,1402.4 L1405.8,1402.5 L1407.7,1402.5 L1409.5,1402.5 L1411.3,1402.5 L1413.1,1402.5 L1414.9,1402.5 L1416.8,1402.5 L1418.6,1402.5 L1420.4,1402.5 L1422.2,1402.5 L1424.0,1402.5 L1425.9,1402.5 L1427.7,1402.5 L1429.5,1402.5 L1431.3,1402.5 L1433.2,1402.5 L1435.0,1402.6 L1436.8,1402.6 L1438.6,1402.6 L1440.4,1402.6 L1442.3,1402.6 L1444.1,1402.6 L1445.9,1402.6 L1447.7,1402.6 L1449.5,1402.6 L1451.4,1402.6 L1453.2,1402.6 L1455.0,1402.6 L1456.8,1402.6 L1458.6,1402.6 L1460.5,1402.6 L1462.3,1402.6 L1464.1,1402.6 L1465.9,1402.6 L1467.7,1402.6 L1469.6,1402.6 L1471.4,1402.6 L1473.2,1402.6 L1475.0,1402.6 L1476.9,1402.6 L1478.7,1402.6 L1480.5,1402.6 L1482.3,1402.6 L1484.1,1402.6 L1486.0,1402.6 L1487.8,1402.6 L1489.6,1402.6 L1491.4,1402.6 L1493.2,1402.6 L1495.1,1402.6 L1496.9,1402.6 L1498.7,1402.6 L1500.5,1402.6 L1502.3,1402.6 L1504.2,1402.6 L1506.0,1402.6 L1507.8,1402.6 L1509.6,1402.6 L1511.5,1402.6 L1513.3,1402.6 L1515.1,1402.6 L1516.9,1402.6 L1518.7,1402.6 L1520.6,1402.6 L1522.4,1402.6 L1524.2,1402.6 L1526.0,1402.6 L1527.8,1402.6 L1529.7,1402.6 L1531.5,1402.6 L1533.3,1402.6 L1535.1,1402.6 L1536.9,1402.6 L1538.8,1402.6 L1540.6,1402.6 L1542.4,1402.6 L1544.2,1402.6 L1546.1,1402.6 L1547.9,1402.6 L1549.7,1402.6 L1551.5,1402.6 L1553.3,1402.6 L1555.2,1402.6 L1557.0,1402.6 L1558.8,1402.6 L1560.6,1402.6 L1562.4,1402.6 L1564.3,1402.6 L1566.1,1402.6 L1567.9,1402.6 L1569.7,1402.6 L1571.5,1402.6 L1573.4,1402.6 L1575.2,1402.6 L1577.0,1402.6 L1578.8,1402.6 L1580.7,1402.6 L1582.5,1402.6 L1584.3,1402.6 L1586.1,1402.6 L1587.9,1402.6 L1589.8,1402.6 L1591.6,1402.6 L1593.4,1402.6 L1595.2,1402.6 L1597.0,1402.6 L1598.9,1402.6 L1600.7,1402.6 L1602.5,1402.6 L1604.3,1402.6 L1606.1,1402.6 L1608.0,1402.6 L1609.8,1402.6 L1611.6,1402.6 L1613.4,1402.6 L1615.2,1402.6 L1617.1,1402.6 L1618.9,1402.6 L1620.7,1402.6 L1622.5,1402.6 L1624.4,1402.6 L1626.2,1402.6 L1628.0,1402.6 L1629.8,1402.6 L1631.6,1402.6 L1633.5,1402.6 L1635.3,1402.6 L1637.1,1402.6 L1638.9,1402.6 L1640.7,1402.6 L1642.6,1402.6 L1644.4,1402.6 L1646.2,1402.6 L1648.0,1402.6 L1649.8,1402.6 L1651.7,1402.6 L1653.5,1402.6 L1655.3,1402.6 L1657.1,1402.6 L1659.0,1402.6 L1660.8,1402.6 L1662.6,1402.6 L1664.4,1402.6 L1666.2,1402.6 L1668.1,1402.6 L1669.9,1402.6 L1671.7,1402.6 L1673.5,1402.6 L1675.3,1402.6 L1677.2,1402.6 L1679.0,1402.6 L1680.8,1402.6 L1682.6,1402.6 L1684.4,1402.6 L1686.3,1402.6 L1688.1,1402.6 L1689.9,1402.6 L1691.7,1402.6 L1693.6,1402.6 L1695.4,1402.6 L1697.2,1402.6 L1699.0,1402.6 L1700.8,1402.6 L1702.7,1402.6 L1704.5,1402.6 L1706.3,1402.6 L1708.1,1402.6 L1709.9,1402.6 L1711.8,1402.6 L1713.6,1402.6 L1715.4,1402.6 L1717.2,1402.6 L1719.0,1402.6 L1720.9,1402.6 L1722.7,1402.6 L1724.5,1402.6 L1726.3,1402.6 L1728.2,1402.6 L1730.0,1402.6 L1731.8,1402.6 L1733.6,1402.6 L1735.4,1402.6 L1737.3,1402.6 L1739.1,1402.6 L1740.9,1402.6 L1742.7,1402.6 L1744.5,1402.6 L1746.4,1402.6 L1748.2,1402.6 L1750.0,1402.6 L1751.8,1402.6 L1753.6,1402.6 L1755.5,1402.6 L1757.3,1402.6 L1759.1,1402.6 L1760.9,1402.6 L1762.8,1402.6 L1764.6,1402.6 L1766.4,1402.6 L1768.2,1402.6 L1770.0,1402.6 L1771.9,1402.6 L1773.7,1402.6 L1775.5,1402.6 L1777.3,1402.6 L1779.1,1402.6" fill="none" stroke="#000" stroke-width="2.5"/>
<path d="M1168.5,1125.5 H1188.0 M1178.2,1125.5 V1216.2 M1168.5,1216.2 H1188.0" stroke="#000" stroke-width="2.3" fill="none"/>
<path d="M1168.4,1161.0 L1188.0,1161.0 L1178.2,1179.5 Z" fill="#000"/>
<path d="M1186.7,1224.4 H1206.2 M1196.4,1224.4 V1308.1 M1186.7,1308.1 H1206.2" stroke="#000" stroke-width="2.3" fill="none"/>
<path d="M1186.6,1257.5 L1206.2,1257.5 L1196.4,1276.0 Z" fill="#000"/>
<path d="M1223.1,1318.7 H1242.6 M1232.8,1318.7 V1374.1 M1223.1,1374.1 H1242.6" stroke="#000" stroke-width="2.3" fill="none"/>
<path d="M1223.0,1338.0 L1242.6,1338.0 L1232.8,1356.5 Z" fill="#000"/>
<path d="M1277.7,1343.5 H1297.2 M1287.5,1343.5 V1400.0" stroke="#000" stroke-width="2.3" fill="none"/>
<path d="M1277.7,1362.1 L1297.3,1362.1 L1287.5,1380.6 Z" fill="#000"/>
<path d="M1350.5,1369.3 L1370.1,1369.3 L1360.3,1387.8 Z" fill="#000"/>
<path d="M1405.2,1408.3 H1424.7 M1414.9,1408.3 V1434.9 M1405.2,1434.9 H1424.7" stroke="#000" stroke-width="2.3" fill="none"/>
<path d="M1405.2,1414.5 H1424.6" stroke="#000" stroke-width="2.3"/>
<path d="M1769.3,1428.0 L1788.9,1428.0 L1779.1,1446.5 Z" fill="#000"/>
<path d="M1160.0,956.3 L1161.8,980.1 L1163.6,1002.8 L1165.5,1024.2 L1167.3,1044.6 L1169.1,1063.9 L1170.9,1082.2 L1172.7,1099.5 L1174.6,1116.0 L1176.4,1131.6 L1178.2,1146.4 L1180.0,1160.4 L1181.9,1173.7 L1183.7,1186.3 L1185.5,1198.3 L1187.3,1209.7 L1189.1,1220.4 L1191.0,1230.7 L1192.8,1240.3 L1194.6,1249.5 L1196.4,1258.2 L1198.2,1266.5 L1200.1,1274.3 L1201.9,1281.8 L1203.7,1288.8 L1205.5,1295.5 L1207.3,1301.9 L1209.2,1307.9 L1211.0,1313.6 L1212.8,1319.0 L1214.6,1324.1 L1216.5,1329.0 L1218.3,1333.6 L1220.1,1337.9 L1221.9,1342.1 L1223.7,1346.0 L1225.6,1349.8 L1227.4,1353.3 L1229.2,1356.7 L1231.0,1359.8 L1232.8,1362.9 L1234.7,1365.7 L1236.5,1368.4 L1238.3,1371.0 L1240.1,1373.5 L1241.9,1375.8 L1243.8,1378.0 L1245.6,1380.0 L1247.4,1382.0 L1249.2,1383.9 L1251.0,1385.7 L1252.9,1387.4 L1254.7,1389.0 L1256.5,1390.5 L1258.3,1391.9 L1260.2,1393.3 L1262.0,1394.6 L1263.8,1395.8 L1265.6,1397.0 L1267.4,1398.1 L1269.3,1399.1 L1271.1,1400.1 L1272.9,1401.0 L1274.7,1401.9 L1276.5,1402.8 L1278.4,1403.6 L1280.2,1404.3 L1282.0,1405.1 L1283.8,1405.7 L1285.6,1406.4 L1287.5,1407.0 L1289.3,1407.6 L1291.1,1408.1 L1292.9,1408.7 L1294.8,1409.2 L1296.6,1409.6 L1298.4,1410.1 L1300.2,1410.5 L1302.0,1410.9 L1303.9,1411.3 L1305.7,1411.7 L1307.5,1412.0 L1309.3,1412.3 L1311.1,1412.6 L1313.0,1412.9 L1314.8,1413.2 L1316.6,1413.5 L1318.4,1413.7 L1320.2,1414.0 L1322.1,1414.2 L1323.9,1414.4 L1325.7,1414.6 L1327.5,1414.8 L1329.4,1415.0 L1331.2,1415.1 L1333.0,1415.3 L1334.8,1415.5 L1336.6,1415.6 L1338.5,1415.8 L1340.3,1415.9 L1342.1,1416.0 L1343.9,1416.1 L1345.7,1416.2 L1347.6,1416.3 L1349.4,1416.5 L1351.2,1416.5 L1353.0,1416.6 L1354.8,1416.7 L1356.7,1416.8 L1358.5,1416.9 L1360.3,1417.0 L1362.1,1417.0 L1364.0,1417.1 L1365.8,1417.2 L1367.6,1417.2 L1369.4,1417.3 L1371.2,1417.3 L1373.1,1417.4 L1374.9,1417.4 L1376.7,1417.5 L1378.5,1417.5 L1380.3,1417.6 L1382.2,1417.6 L1384.0,1417.6 L1385.8,1417.7 L1387.6,1417.7 L1389.4,1417.7 L1391.3,1417.8 L1393.1,1417.8 L1394.9,1417.8 L1396.7,1417.8 L1398.6,1417.9 L1400.4,1417.9 L1402.2,1417.9 L1404.0,1417.9 L1405.8,1418.0 L1407.7,1418.0 L1409.5,1418.0 L1411.3,1418.0 L1413.1,1418.0 L1414.9,1418.0 L1416.8,1418.1 L1418.6,1418.1 L1420.4,1418.1 L1422.2,1418.1 L1424.0,1418.1 L1425.9,1418.1 L1427.7,1418.1 L1429.5,1418.1 L1431.3,1418.1 L1433.2,1418.2 L1435.0,1418.2 L1436.8,1418.2 L1438.6,1418.2 L1440.4,1418.2 L1442.3,1418.2 L1444.1,1418.2 L1445.9,1418.2 L1447.7,1418.2 L1449.5,1418.2 L1451.4,1418.2 L1453.2,1418.2 L1455.0,1418.2 L1456.8,1418.2 L1458.6,1418.2 L1460.5,1418.2 L1462.3,1418.2 L1464.1,1418.2 L1465.9,1418.3 L1467.7,1418.3 L1469.6,1418.3 L1471.4,1418.3 L1473.2,1418.3 L1475.0,1418.3 L1476.9,1418.3 L1478.7,1418.3 L1480.5,1418.3 L1482.3,1418.3 L1484.1,1418.3 L1486.0,1418.3 L1487.8,1418.3 L1489.6,1418.3 L1491.4,1418.3 L1493.2,1418.3 L1495.1,1418.3 L1496.9,1418.3 L1498.7,1418.3 L1500.5,1418.3 L1502.3,1418.3 L1504.2,1418.3 L1506.0,1418.3 L1507.8,1418.3 L1509.6,1418.3 L1511.5,1418.3 L1513.3,1418.3 L1515.1,1418.3 L1516.9,1418.3 L1518.7,1418.3 L1520.6,1418.3 L1522.4,1418.3 L1524.2,1418.3 L1526.0,1418.3 L1527.8,1418.3 L1529.7,1418.3 L1531.5,1418.3 L1533.3,1418.3 L1535.1,1418.3 L1536.9,1418.3 L1538.8,1418.3 L1540.6,1418.3 L1542.4,1418.3 L1544.2,1418.3 L1546.1,1418.3 L1547.9,1418.3 L1549.7,1418.3 L1551.5,1418.3 L1553.3,1418.3 L1555.2,1418.3 L1557.0,1418.3 L1558.8,1418.3 L1560.6,1418.3 L1562.4,1418.3 L1564.3,1418.3 L1566.1,1418.3 L1567.9,1418.3 L1569.7,1418.3 L1571.5,1418.3 L1573.4,1418.3 L1575.2,1418.3 L1577.0,1418.3 L1578.8,1418.3 L1580.7,1418.3 L1582.5,1418.3 L1584.3,1418.3 L1586.1,1418.3 L1587.9,1418.3 L1589.8,1418.3 L1591.6,1418.3 L1593.4,1418.3 L1595.2,1418.3 L1597.0,1418.3 L1598.9,1418.3 L1600.7,1418.3 L1602.5,1418.3 L1604.3,1418.3 L1606.1,1418.3 L1608.0,1418.3 L1609.8,1418.3 L1611.6,1418.3 L1613.4,1418.3 L1615.2,1418.3 L1617.1,1418.3 L1618.9,1418.3 L1620.7,1418.3 L1622.5,1418.3 L1624.4,1418.3 L1626.2,1418.3 L1628.0,1418.3 L1629.8,1418.3 L1631.6,1418.3 L1633.5,1418.3 L1635.3,1418.3 L1637.1,1418.3 L1638.9,1418.3 L1640.7,1418.3 L1642.6,1418.3 L1644.4,1418.3 L1646.2,1418.3 L1648.0,1418.3 L1649.8,1418.3 L1651.7,1418.3 L1653.5,1418.3 L1655.3,1418.3 L1657.1,1418.3 L1659.0,1418.3 L1660.8,1418.3 L1662.6,1418.3 L1664.4,1418.3 L1666.2,1418.3 L1668.1,1418.3 L1669.9,1418.3 L1671.7,1418.3 L1673.5,1418.3 L1675.3,1418.3 L1677.2,1418.3 L1679.0,1418.3 L1680.8,1418.3 L1682.6,1418.3 L1684.4,1418.3 L1686.3,1418.3 L1688.1,1418.3 L1689.9,1418.3 L1691.7,1418.3 L1693.6,1418.3 L1695.4,1418.3 L1697.2,1418.3 L1699.0,1418.3 L1700.8,1418.3 L1702.7,1418.3 L1704.5,1418.3 L1706.3,1418.3 L1708.1,1418.3 L1709.9,1418.3 L1711.8,1418.3 L1713.6,1418.3 L1715.4,1418.3 L1717.2,1418.3 L1719.0,1418.3 L1720.9,1418.3 L1722.7,1418.3 L1724.5,1418.3 L1726.3,1418.3 L1728.2,1418.3 L1730.0,1418.3 L1731.8,1418.3 L1733.6,1418.3 L1735.4,1418.3 L1737.3,1418.3 L1739.1,1418.3 L1740.9,1418.3 L1742.7,1418.3 L1744.5,1418.3 L1746.4,1418.3 L1748.2,1418.3 L1750.0,1418.3 L1751.8,1418.3 L1753.6,1418.3 L1755.5,1418.3 L1757.3,1418.3 L1759.1,1418.3 L1760.9,1418.3 L1762.8,1418.3 L1764.6,1418.3 L1766.4,1418.3 L1768.2,1418.3 L1770.0,1418.3 L1771.9,1418.3 L1773.7,1418.3 L1775.5,1418.3 L1777.3,1418.3 L1779.1,1418.3" fill="none" stroke="#0000ff" stroke-width="2.5"/>
<path d="M1168.5,1081.6 H1188.0 M1178.2,1081.6 V1218.4 M1168.5,1218.4 H1188.0" stroke="#0000ff" stroke-width="2.3" fill="none"/>
<path d="M1186.7,1237.7 H1206.2 M1196.4,1237.7 V1304.8 M1186.7,1304.8 H1206.2" stroke="#0000ff" stroke-width="2.3" fill="none"/>
<path d="M1223.1,1336.3 H1242.6 M1232.8,1336.3 V1363.3 M1223.1,1363.3 H1242.6" stroke="#0000ff" stroke-width="2.3" fill="none"/>
<path d="M1405.2,1400.8 H1424.7 M1414.9,1400.8 V1442.6" stroke="#0000ff" stroke-width="2.3" fill="none"/>
<path d="M1277.7,1394.3 H1297.2 M1287.5,1394.3 V1417.6 M1277.7,1417.6 H1297.2" stroke="#0000ff" stroke-width="2.3" fill="none"/>
<path d="M1350.6,1392.6 H1370.1 M1360.3,1392.6 V1414.2 M1350.6,1414.2 H1370.1" stroke="#0000ff" stroke-width="2.3" fill="none"/>
<path d="M1186.7,1317.6 H1206.2 M1196.4,1317.6 V1337.4 M1186.7,1337.4 H1206.2" stroke="#fe0000" stroke-width="2.3" fill="none"/>
<path d="M1350.6,1028.3 H1370.1 M1360.3,1028.3 V1075.5 M1350.6,1075.5 H1370.1" stroke="#fe0000" stroke-width="2.3" fill="none"/>
<path d="M1405.2,998.3 H1424.7 M1414.9,998.3 V1034.3 M1405.2,1034.3 H1424.7" stroke="#fe0000" stroke-width="2.3" fill="none"/>
<path d="M1769.4,1004.1 H1788.9 M1779.1,1004.1 V1029.9 M1769.4,1029.9 H1788.9" stroke="#fe0000" stroke-width="2.3" fill="none"/>
<path d="M1160.0,1441.0 L1163.6,1428.5 L1167.3,1416.4 L1170.9,1404.6 L1174.6,1393.2 L1178.2,1382.0 L1181.9,1371.2 L1185.5,1360.7 L1189.1,1350.4 L1192.8,1340.5 L1196.4,1330.8 L1200.1,1321.3 L1203.7,1312.2 L1207.3,1303.3 L1211.0,1294.6 L1214.6,1286.2 L1218.3,1278.0 L1221.9,1270.0 L1225.6,1262.3 L1229.2,1254.7 L1232.8,1247.4 L1236.5,1240.3 L1240.1,1233.4 L1243.8,1226.6 L1247.4,1220.1 L1251.0,1213.7 L1254.7,1207.5 L1258.3,1201.5 L1262.0,1195.6 L1265.6,1189.9 L1269.3,1184.4 L1272.9,1179.0 L1276.5,1173.8 L1280.2,1168.7 L1283.8,1163.7 L1287.5,1158.9 L1291.1,1154.2 L1294.8,1149.6 L1298.4,1145.2 L1302.0,1140.9 L1305.7,1136.7 L1309.3,1132.6 L1313.0,1128.7 L1316.6,1124.8 L1320.2,1121.1 L1323.9,1117.4 L1327.5,1113.9 L1331.2,1110.5 L1334.8,1107.1 L1338.5,1103.9 L1342.1,1100.7 L1345.7,1097.6 L1349.4,1094.6 L1353.0,1091.7 L1356.7,1088.9 L1360.3,1086.1 L1364.0,1083.4 L1367.6,1080.8 L1371.2,1078.3 L1374.9,1075.8 L1378.5,1073.4 L1382.2,1071.1 L1385.8,1068.8 L1389.4,1066.6 L1393.1,1064.5 L1396.7,1062.4 L1400.4,1060.4 L1404.0,1058.4 L1407.7,1056.5 L1411.3,1054.6 L1414.9,1052.8 L1418.6,1051.1 L1422.2,1049.4 L1425.9,1047.7 L1429.5,1046.1 L1433.2,1044.5 L1436.8,1043.0 L1440.4,1041.5 L1444.1,1040.0 L1447.7,1038.6 L1451.4,1037.2 L1455.0,1035.9 L1458.6,1034.6 L1462.3,1033.4 L1465.9,1032.1 L1469.6,1030.9 L1473.2,1029.8 L1476.9,1028.7 L1480.5,1027.6 L1484.1,1026.5 L1487.8,1025.5 L1491.4,1024.5 L1495.1,1023.5 L1498.7,1022.5 L1502.3,1021.6 L1506.0,1020.7 L1509.6,1019.8 L1513.3,1019.0 L1516.9,1018.1 L1520.6,1017.3 L1524.2,1016.6 L1527.8,1015.8 L1531.5,1015.1 L1535.1,1014.3 L1538.8,1013.6 L1542.4,1012.9 L1546.1,1012.3 L1549.7,1011.6 L1553.3,1011.0 L1557.0,1010.4 L1560.6,1009.8 L1564.3,1009.2 L1567.9,1008.7 L1571.5,1008.1 L1575.2,1007.6 L1578.8,1007.1 L1582.5,1006.6 L1586.1,1006.1 L1589.8,1005.6 L1593.4,1005.2 L1597.0,1004.7 L1600.7,1004.3 L1604.3,1003.9 L1608.0,1003.5 L1611.6,1003.1 L1615.2,1002.7 L1618.9,1002.3 L1622.5,1001.9 L1626.2,1001.6 L1629.8,1001.2 L1633.5,1000.9 L1637.1,1000.5 L1640.7,1000.2 L1644.4,999.9 L1648.0,999.6 L1651.7,999.3 L1655.3,999.0 L1659.0,998.7 L1662.6,998.5 L1666.2,998.2 L1669.9,998.0 L1673.5,997.7 L1677.2,997.5 L1680.8,997.2 L1684.4,997.0 L1688.1,996.8 L1691.7,996.6 L1695.4,996.4 L1699.0,996.1 L1702.7,995.9 L1706.3,995.8 L1709.9,995.6 L1713.6,995.4 L1717.2,995.2 L1720.9,995.0 L1724.5,994.9 L1728.2,994.7 L1731.8,994.5 L1735.4,994.4 L1739.1,994.2 L1742.7,994.1 L1746.4,993.9 L1750.0,993.8 L1753.6,993.7 L1757.3,993.5 L1760.9,993.4 L1764.6,993.3 L1768.2,993.2 L1771.9,993.1 L1775.5,992.9 L1779.1,992.8" fill="none" stroke="#fe0000" stroke-width="10.3" stroke-linejoin="round"/>
<path d="M1159.8,1431.4 L1169.6,1441.2 L1159.8,1451.0 L1150.0,1441.2 Z" fill="#fe0000"/>
<path d="M1178.6,1359.5 L1188.4,1369.3 L1178.6,1379.1 L1168.8,1369.3 Z" fill="#fe0000"/>
<path d="M1196.4,1317.0 L1206.2,1326.8 L1196.4,1336.6 L1186.6,1326.8 Z" fill="#fe0000"/>
<path d="M1233.1,1260.5 L1242.9,1270.3 L1233.1,1280.1 L1223.3,1270.3 Z" fill="#fe0000"/>
<path d="M1287.6,1195.8 L1297.4,1205.6 L1287.6,1215.4 L1277.8,1205.6 Z" fill="#fe0000"/>
<path d="M1360.5,1042.1 L1370.3,1051.9 L1360.5,1061.7 L1350.7,1051.9 Z" fill="#fe0000"/>
<path d="M1415.2,1006.1 L1425.0,1015.9 L1415.2,1025.7 L1405.4,1015.9 Z" fill="#fe0000"/>
<path d="M1778.6,1007.2 L1788.4,1017.0 L1778.6,1026.8 L1768.8,1017.0 Z" fill="#fe0000"/>
<rect x="1150.2" y="946.3" width="20" height="20" fill="#0000ff"/>
<rect x="1168.4" y="1140.9" width="20" height="20" fill="#0000ff"/>
<rect x="1186.4" y="1261.5" width="20" height="20" fill="#0000ff"/>
<rect x="1223.1" y="1339.8" width="20" height="20" fill="#0000ff"/>
<rect x="1277.6" y="1396.0" width="20" height="20" fill="#0000ff"/>
<rect x="1350.0" y="1393.1" width="20" height="20" fill="#0000ff"/>
<rect x="1405.2" y="1414.5" width="20" height="20" fill="#0000ff"/>
<rect x="1768.6" y="1424.5" width="20" height="20" fill="#0000ff"/>
<path d="M1480.1,1243.8 L1489.9,1253.6 L1480.1,1263.4 L1470.3,1253.6 Z" fill="#fe0000"/>
<text x="1509.90" y="1263.50" font-size="34.1" color="#fe0000" text-anchor="start">Cov. Bond Formation</text>
<rect x="1472.9" y="1293.5" width="20.1" height="18.8" fill="#0a28b4"/>
<text x="1509.20" y="1313.00" font-size="34" color="#0a28b4" text-anchor="start">BCCov</text>
<path d="M1473.0,1346.0 L1493.0,1346.0 L1483.0,1364.6 Z" fill="#000"/>
<text x="1515.20" y="1365.50" font-size="34" color="#000" text-anchor="start">BCNC</text>
</g>
<text x="164.1" y="26.4" font-size="33.8" color="#fe0000">Unmodified 0 <tspan font-family='"Liberation Serif", serif' font-size="33">µ</tspan>M BCCov</text>
<text x="1210" y="29.75" font-size="33.8" color="#00aeef">Modified 20 <tspan font-family='"Liberation Serif", serif' font-size="33">µ</tspan>M BCCov</text>
<text x="661.5" y="60" font-size="41" stroke-width="0.25">Cov.</text>
<text transform="translate(751.6,60) scale(1.124,1)" font-size="41" stroke-width="0.25">Modification</text>
<text x="66.60" y="121.50" font-size="60" color="#000" text-anchor="start">A</text>
<text x="52.50" y="832.50" font-size="60" color="#000" text-anchor="start">B</text>
<text x="38.00" y="1195.00" font-size="60" color="#000" text-anchor="start">C</text>
<text x="1016.60" y="955.80" font-size="60" color="#000" text-anchor="start">D</text>
<text x="273.00" y="129.00" font-size="34.2" color="#fe0000" text-anchor="start">0P</text>
<text x="350.00" y="416.50" font-size="34.2" color="#fe0000" text-anchor="start">1P</text>
<text x="446.00" y="515.50" font-size="34.2" color="#fe0000" text-anchor="start">2P</text>
<text x="1340.50" y="122.50" font-size="34.2" color="#2a8cff" text-anchor="start">0P</text>
<text x="1418.30" y="410.00" font-size="34.2" color="#2a8cff" text-anchor="start">1P</text>
<text x="1514.50" y="508.00" font-size="34.2" color="#2a8cff" text-anchor="start">2P</text>
<text x="296.70" y="173.00" font-size="33.45" color="#000" text-anchor="start">80245.68 Da</text>
<text x="1376.30" y="173.30" font-size="33.4" color="#000" text-anchor="start">81345.50 Da</text>
<text x="737.80" y="865.00" font-size="33.9" color="#000" text-anchor="start">Molecular Weight (Da)</text>
<text x="87.50" y="881.75" font-size="33.5" color="#000" text-anchor="start">WT BTK</text>
<text x="60.00" y="1249.25" font-size="33.5" color="#000" text-anchor="start">WT BTK</text>
<text x="209.25" y="926.25" font-size="34" color="#000" text-anchor="middle">0</text>
<text x="285.50" y="926.25" font-size="34" color="#000" text-anchor="middle">0.5</text>
<text x="365.50" y="926.25" font-size="34" color="#000" text-anchor="middle">1.0</text>
<text x="442.10" y="926.25" font-size="34" color="#000" text-anchor="middle">2.0</text>
<text x="520.15" y="926.25" font-size="34" color="#000" text-anchor="middle">3.5</text>
<text x="598.35" y="926.25" font-size="34" color="#000" text-anchor="middle">5.0</text>
<text x="676.50" y="926.25" font-size="34" color="#000" text-anchor="middle">7.0</text>
<text x="732.90" y="926.20" font-size="33.4" color="#000" text-anchor="start">18hr</text>
<text x="198.75" y="1281.10" font-size="34" color="#000" text-anchor="middle">0</text>
<text x="263.00" y="1281.10" font-size="34" color="#000" text-anchor="middle">0.5</text>
<text x="341.75" y="1281.10" font-size="34" color="#000" text-anchor="middle">1.0</text>
<text x="419.25" y="1281.10" font-size="34" color="#000" text-anchor="middle">2.0</text>
<text x="497.40" y="1281.10" font-size="34" color="#000" text-anchor="middle">3.5</text>
<text x="575.75" y="1281.10" font-size="34" color="#000" text-anchor="middle">5.0</text>
<text x="654.25" y="1281.10" font-size="34" color="#000" text-anchor="middle">7.0</text>
<text x="708.90" y="1281.00" font-size="33.7" color="#000" text-anchor="start">18hr</text>
<text x="829.60" y="928.00" font-size="40.3" color="#000" text-anchor="start">BCCov</text>
<text x="814.70" y="1274.20" font-size="40.6" color="#000" text-anchor="start">BCNC</text>
<text x="820.70" y="1003.80" font-size="27.2" color="#000" text-anchor="start">~77 kDa</text>
<text x="820.70" y="1103.30" font-size="27.2" color="#000" text-anchor="start">~124 kDa</text>
<text x="820.70" y="1358.90" font-size="27.2" color="#000" text-anchor="start">~77 kDa</text>
<text x="820.70" y="1457.90" font-size="27.2" color="#000" text-anchor="start">~124 kDa</text>
<text x="144.5" y="1003" font-size="33.5" text-anchor="end"><tspan font-family="DejaVu Serif, serif" font-size="32" stroke-width="0.2">α</tspan>-BTK</text>
<text x="144.3" y="1111.2" font-size="34.1" text-anchor="end"><tspan font-family="DejaVu Serif, serif" font-size="32" stroke-width="0.2">α</tspan>-vinculin</text>
<text x="147" y="1360" font-size="33.5" text-anchor="end"><tspan font-family="DejaVu Serif, serif" font-size="32" stroke-width="0.2">α</tspan>-BTK</text>
<text x="145.5" y="1468" font-size="33.8" text-anchor="end"><tspan font-family="DejaVu Serif, serif" font-size="32" stroke-width="0.2">α</tspan>-vinculin</text>
</svg>
</body></html>
